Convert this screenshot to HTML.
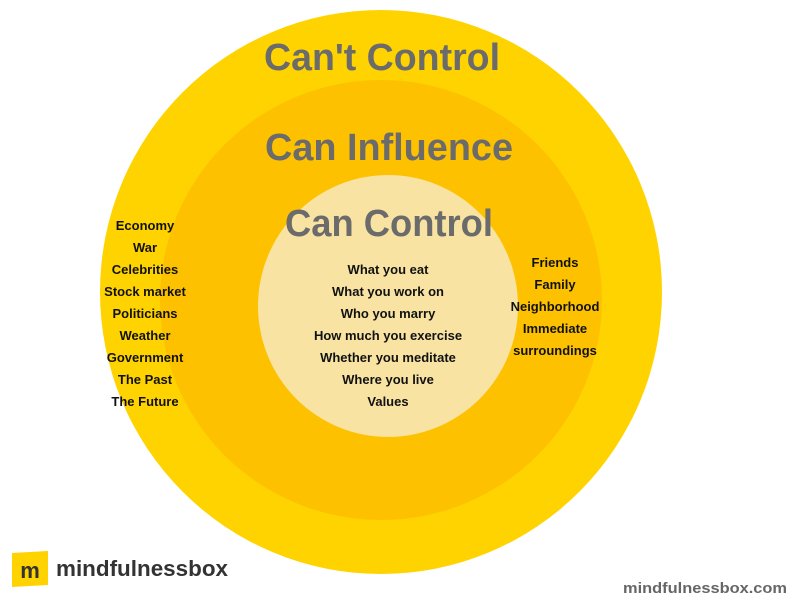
<!DOCTYPE html>
<html><head><meta charset="utf-8"><style>
html,body{margin:0;padding:0;background:#fff;width:800px;height:600px;overflow:hidden}
</style></head><body>
<svg width="800" height="600" viewBox="0 0 800 600" xmlns="http://www.w3.org/2000/svg" font-family="Liberation Sans, sans-serif">
<rect width="800" height="600" fill="#fff"/>
<ellipse cx="381" cy="292" rx="281" ry="282" fill="#FFD300"/>
<ellipse cx="381" cy="300" rx="221" ry="220" fill="#FDC100"/>
<ellipse cx="388" cy="306" rx="130" ry="131" fill="#F9E3A2"/>
<g fill="#6b6b6b" font-weight="bold" font-size="38" text-anchor="middle">
<text x="382" y="70" textLength="236" lengthAdjust="spacingAndGlyphs">Can't Control</text>
<text x="389" y="160" textLength="248" lengthAdjust="spacingAndGlyphs">Can Influence</text>
<text x="389" y="236" textLength="208" lengthAdjust="spacingAndGlyphs">Can Control</text>
</g>
<g fill="#111" font-weight="bold" font-size="13" text-anchor="middle">
<text x="145" y="230">Economy</text>
<text x="145" y="252">War</text>
<text x="145" y="274">Celebrities</text>
<text x="145" y="296">Stock market</text>
<text x="145" y="318">Politicians</text>
<text x="145" y="340">Weather</text>
<text x="145" y="362">Government</text>
<text x="145" y="384">The Past</text>
<text x="145" y="406">The Future</text>
<text x="388" y="274">What you eat</text>
<text x="388" y="296">What you work on</text>
<text x="388" y="318">Who you marry</text>
<text x="388" y="340">How much you exercise</text>
<text x="388" y="362">Whether you meditate</text>
<text x="388" y="384">Where you live</text>
<text x="388" y="406">Values</text>
<text x="555" y="267">Friends</text>
<text x="555" y="289">Family</text>
<text x="555" y="311">Neighborhood</text>
<text x="555" y="333">Immediate</text>
<text x="555" y="355">surroundings</text>
</g>
<polygon points="12,553 48,551 48,585 12,587" fill="#FFD300"/>
<text x="30" y="578" text-anchor="middle" font-weight="bold" font-size="22" fill="#333">m</text>
<text x="56" y="576" font-weight="bold" font-size="22" fill="#333" textLength="172" lengthAdjust="spacingAndGlyphs">mindfulnessbox</text>
<text x="787" y="593" text-anchor="end" font-weight="bold" font-size="15" fill="#666" textLength="164" lengthAdjust="spacingAndGlyphs">mindfulnessbox.com</text>
</svg>
</body></html>
